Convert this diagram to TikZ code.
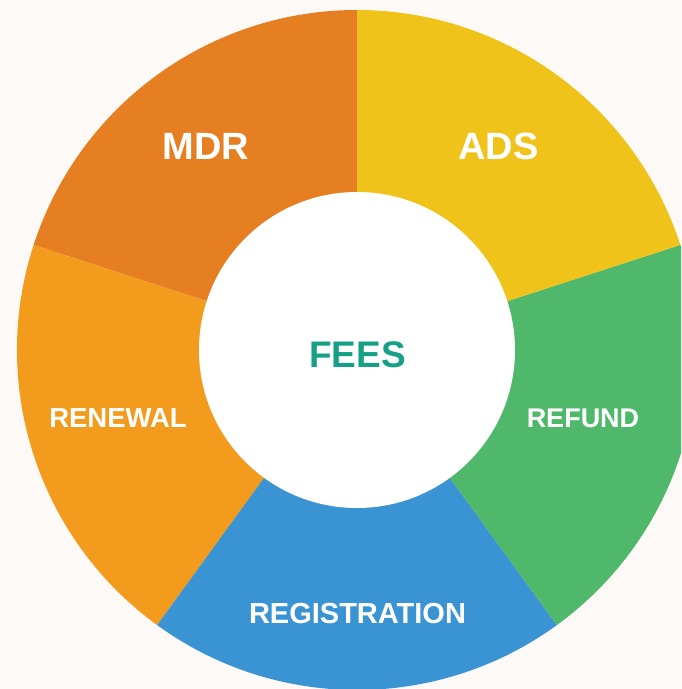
\documentclass[tikz,border=0pt]{standalone}
\usepackage{fontspec}
\setmainfont{Liberation Sans}
\definecolor{bgcol}{HTML}{FDF9F6}
\definecolor{mdrcol}{HTML}{E67E22}
\definecolor{adscol}{HTML}{F0C31A}
\definecolor{refcol}{HTML}{4FB86B}
\definecolor{regcol}{HTML}{3A93D3}
\definecolor{rencol}{HTML}{F29B1D}
\definecolor{feescol}{HTML}{16A085}
\tikzset{
  seglabel/.style={text=white, inner sep=0pt, font=\bfseries\fontsize{#1}{#1}\selectfont},
  seglabel/.default=28
}
\begin{document}
\begin{tikzpicture}[x=1pt,y=1pt]
\useasboundingbox (0,0) rectangle (681,-689);
\clip (0,0) rectangle (681,-689);
\fill[bgcol] (0,0) rectangle (681,-689);
\coordinate (c) at (357,-350);
\fill[mdrcol] (c) -- ++(90:340) arc[start angle=90,end angle=162,radius=340] -- cycle;
\fill[rencol] (c) -- ++(162:340) arc[start angle=162,end angle=234,radius=340] -- cycle;
\fill[regcol] (c) -- ++(234:340) arc[start angle=234,end angle=306,radius=340] -- cycle;
\fill[refcol] (c) -- ++(306:340) arc[start angle=306,end angle=378,radius=340] -- cycle;
\fill[adscol] (c) -- ++(18:340) arc[start angle=18,end angle=90,radius=340] -- cycle;
\node[circle, fill=white, minimum size=316pt, inner sep=0pt] (hub) at (c) {};
\node[seglabel=38] (mdr) at (206,-146.5) {MDR};
\node[seglabel=38] (ads) at (498.5,-146.5) {ADS};
\node[seglabel=27.5] (renewal) at (118,-418) {RENEWAL};
\node[seglabel=27] (refund) at (583,-418) {REFUND};
\node[seglabel=29] (registration) at (357.5,-614) {REGISTRATION};
\node[inner sep=0pt, text=feescol, font=\bfseries\fontsize{37}{37}\selectfont] (fees) at (357.5,-354.5) {FEES};
\end{tikzpicture}
\end{document}
